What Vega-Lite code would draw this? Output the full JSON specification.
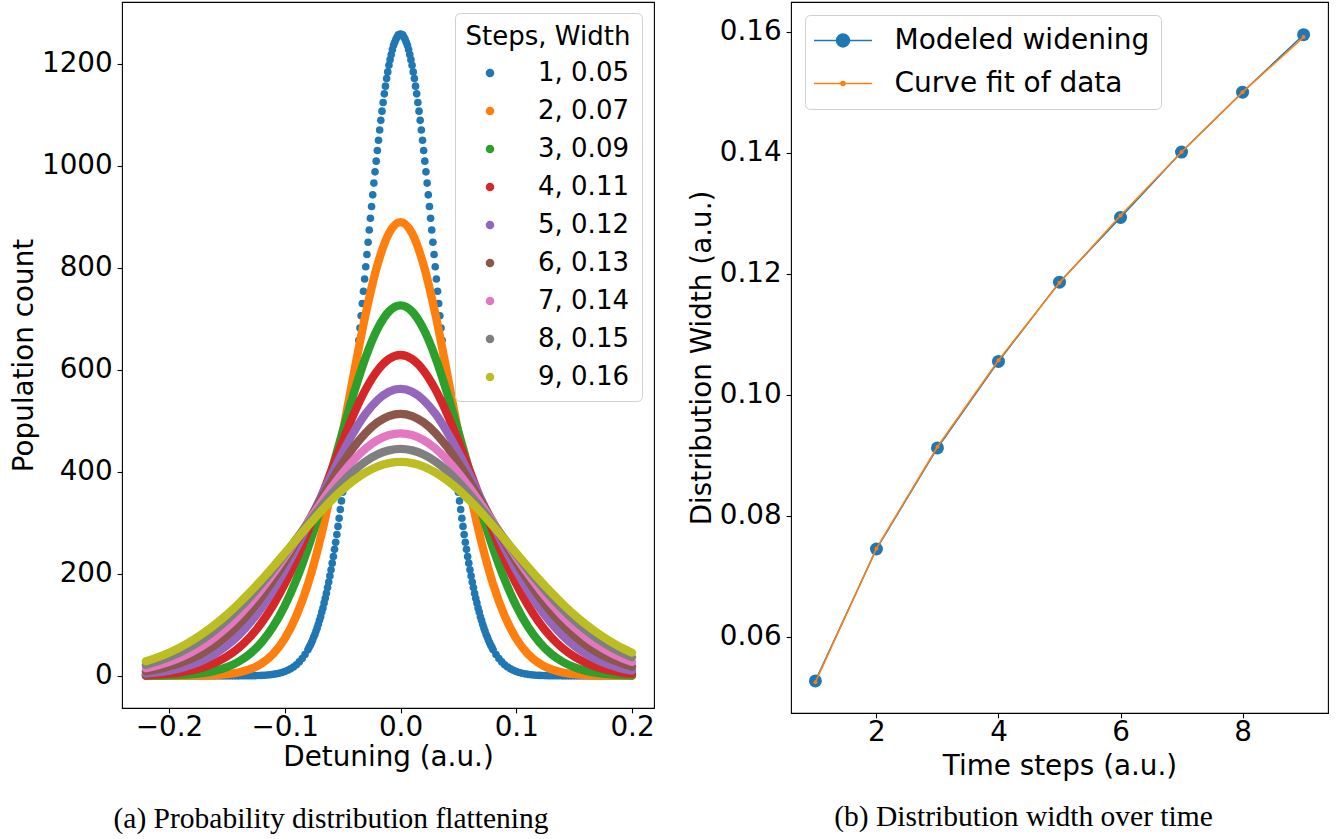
{
"$schema": "https://vega.github.io/schema/vega-lite/v6.json",
"background": "white",
"padding": {"left": 9, "top": 1, "right": 5, "bottom": 5},
"bounds": "flush",
"spacing": 137,
"resolve": {"scale": {"color": "independent"}, "legend": {"color": "independent"}},
"config": {
  "view": {"stroke": "black", "strokeWidth": 1.1},
  "axis": {"labelFont": "DejaVu Sans", "labelFontSize": 27.8, "labelColor": "black", "titleFont": "DejaVu Sans", "titleFontSize": 27.8, "titleFontWeight": "normal", "titleColor": "black", "tickColor": "black", "tickSize": 4.9, "tickWidth": 1.1, "domain": false, "grid": false, "labelFlush": false, "labelOverlap": false},
  "axisX": {"labelPadding": 1, "titlePadding": 2},
  "axisY": {"labelPadding": 4.9, "titlePadding": 3}
},
"datasets": {
"b": [
{"x":-0.22,"y":0},{"x":-0.2175,"y":0},{"x":-0.215,"y":0},{"x":-0.2125,"y":0},{"x":-0.21,"y":0},{"x":-0.2075,"y":0},{"x":-0.205,"y":0},{"x":-0.2025,"y":0},{"x":-0.2,"y":0},{"x":-0.1975,"y":0},{"x":-0.195,"y":0},{"x":-0.1925,"y":0},{"x":-0.19,"y":0},{"x":-0.1875,"y":0},{"x":-0.185,"y":0},{"x":-0.1825,"y":0},{"x":-0.18,"y":0},{"x":-0.1775,"y":0},{"x":-0.175,"y":0},{"x":-0.1725,"y":0},{"x":-0.17,"y":0},{"x":-0.1675,"y":0},{"x":-0.165,"y":0},{"x":-0.1625,"y":0},{"x":-0.16,"y":0},{"x":-0.1575,"y":0},{"x":-0.155,"y":0},{"x":-0.1525,"y":0},{"x":-0.15,"y":0},{"x":-0.1475,"y":0},{"x":-0.145,"y":0},{"x":-0.1425,"y":0},{"x":-0.14,"y":0},
{"x":-0.1375,"y":0.1},{"x":-0.135,"y":0.1},{"x":-0.1325,"y":0.2},{"x":-0.13,"y":0.3},{"x":-0.1275,"y":0.4},{"x":-0.125,"y":0.5},{"x":-0.1225,"y":0.7},{"x":-0.12,"y":0.9},{"x":-0.1175,"y":1.3},{"x":-0.115,"y":1.7},{"x":-0.1125,"y":2.2},{"x":-0.11,"y":3},{"x":-0.1075,"y":3.9},{"x":-0.105,"y":5.1},{"x":-0.1025,"y":6.6},{"x":-0.1,"y":8.5},{"x":-0.0975,"y":10.9},{"x":-0.095,"y":13.8},{"x":-0.0925,"y":17.4},{"x":-0.09,"y":21.9},{"x":-0.0875,"y":27.4},{"x":-0.085,"y":33.9},{"x":-0.0825,"y":41.9},
{"x":-0.08,"y":51},{"x":-0.079,"y":56},{"x":-0.078,"y":60},{"x":-0.077,"y":65},{"x":-0.076,"y":70},{"x":-0.075,"y":76},{"x":-0.074,"y":81},{"x":-0.073,"y":88},{"x":-0.072,"y":94},{"x":-0.071,"y":101},{"x":-0.07,"y":109},{"x":-0.069,"y":116},{"x":-0.068,"y":125},{"x":-0.067,"y":133},{"x":-0.066,"y":143},{"x":-0.065,"y":152},{"x":-0.064,"y":162},{"x":-0.063,"y":173},{"x":-0.062,"y":184},{"x":-0.061,"y":196},{"x":-0.06,"y":208},{"x":-0.059,"y":221},{"x":-0.058,"y":234},{"x":-0.057,"y":248},{"x":-0.056,"y":262},{"x":-0.055,"y":277},{"x":-0.054,"y":293},{"x":-0.053,"y":309},{"x":-0.052,"y":326},{"x":-0.051,"y":343},{"x":-0.05,"y":360},{"x":-0.049,"y":379},{"x":-0.048,"y":398},{"x":-0.047,"y":417},{"x":-0.046,"y":437},{"x":-0.045,"y":457},{"x":-0.044,"y":478},{"x":-0.043,"y":499},{"x":-0.042,"y":521},{"x":-0.041,"y":543},{"x":-0.04,"y":565},{"x":-0.039,"y":588},{"x":-0.038,"y":611},{"x":-0.037,"y":635},{"x":-0.036,"y":658},{"x":-0.035,"y":682},{"x":-0.034,"y":706},{"x":-0.033,"y":730},{"x":-0.032,"y":754},{"x":-0.031,"y":778},{"x":-0.03,"y":802},{"x":-0.029,"y":826},{"x":-0.028,"y":850},{"x":-0.027,"y":874},{"x":-0.026,"y":897},{"x":-0.025,"y":920},{"x":-0.024,"y":943},{"x":-0.023,"y":966},{"x":-0.022,"y":988},{"x":-0.021,"y":1009},{"x":-0.02,"y":1030},{"x":-0.019,"y":1050},{"x":-0.018,"y":1070},{"x":-0.017,"y":1089},{"x":-0.016,"y":1107},{"x":-0.015,"y":1124},{"x":-0.014,"y":1141},{"x":-0.013,"y":1156},{"x":-0.012,"y":1171},{"x":-0.011,"y":1184},{"x":-0.01,"y":1197},{"x":-0.009,"y":1208},{"x":-0.008,"y":1218},{"x":-0.007,"y":1228},{"x":-0.006,"y":1236},{"x":-0.005,"y":1242},{"x":-0.004,"y":1248},{"x":-0.003,"y":1252},{"x":-0.002,"y":1256},{"x":-0.001,"y":1257},
{"x":0,"y":1258},
{"x":0.001,"y":1257},{"x":0.002,"y":1256},{"x":0.003,"y":1252},{"x":0.004,"y":1248},{"x":0.005,"y":1242},{"x":0.006,"y":1236},{"x":0.007,"y":1228},{"x":0.008,"y":1218},{"x":0.009,"y":1208},{"x":0.01,"y":1197},{"x":0.011,"y":1184},{"x":0.012,"y":1171},{"x":0.013,"y":1156},{"x":0.014,"y":1141},{"x":0.015,"y":1124},{"x":0.016,"y":1107},{"x":0.017,"y":1089},{"x":0.018,"y":1070},{"x":0.019,"y":1050},{"x":0.02,"y":1030},{"x":0.021,"y":1009},{"x":0.022,"y":988},{"x":0.023,"y":966},{"x":0.024,"y":943},{"x":0.025,"y":920},{"x":0.026,"y":897},{"x":0.027,"y":874},{"x":0.028,"y":850},{"x":0.029,"y":826},{"x":0.03,"y":802},{"x":0.031,"y":778},{"x":0.032,"y":754},{"x":0.033,"y":730},{"x":0.034,"y":706},{"x":0.035,"y":682},{"x":0.036,"y":658},{"x":0.037,"y":635},{"x":0.038,"y":611},{"x":0.039,"y":588},{"x":0.04,"y":565},{"x":0.041,"y":543},{"x":0.042,"y":521},{"x":0.043,"y":499},{"x":0.044,"y":478},{"x":0.045,"y":457},{"x":0.046,"y":437},{"x":0.047,"y":417},{"x":0.048,"y":398},{"x":0.049,"y":379},{"x":0.05,"y":360},{"x":0.051,"y":343},{"x":0.052,"y":326},{"x":0.053,"y":309},{"x":0.054,"y":293},{"x":0.055,"y":277},{"x":0.056,"y":262},{"x":0.057,"y":248},{"x":0.058,"y":234},{"x":0.059,"y":221},{"x":0.06,"y":208},{"x":0.061,"y":196},{"x":0.062,"y":184},{"x":0.063,"y":173},{"x":0.064,"y":162},{"x":0.065,"y":152},{"x":0.066,"y":143},{"x":0.067,"y":133},{"x":0.068,"y":125},{"x":0.069,"y":116},{"x":0.07,"y":109},{"x":0.071,"y":101},{"x":0.072,"y":94},{"x":0.073,"y":88},{"x":0.074,"y":81},{"x":0.075,"y":76},{"x":0.076,"y":70},{"x":0.077,"y":65},{"x":0.078,"y":60},{"x":0.079,"y":56},{"x":0.08,"y":51},
{"x":0.0825,"y":41.9},{"x":0.085,"y":33.9},{"x":0.0875,"y":27.4},{"x":0.09,"y":21.9},{"x":0.0925,"y":17.4},{"x":0.095,"y":13.8},{"x":0.0975,"y":10.9},{"x":0.1,"y":8.5},{"x":0.1025,"y":6.6},{"x":0.105,"y":5.1},{"x":0.1075,"y":3.9},{"x":0.11,"y":3},{"x":0.1125,"y":2.2},{"x":0.115,"y":1.7},{"x":0.1175,"y":1.3},{"x":0.12,"y":0.9},{"x":0.1225,"y":0.7},{"x":0.125,"y":0.5},{"x":0.1275,"y":0.4},{"x":0.13,"y":0.3},{"x":0.1325,"y":0.2},{"x":0.135,"y":0.1},{"x":0.1375,"y":0.1},
{"x":0.14,"y":0},{"x":0.1425,"y":0},{"x":0.145,"y":0},{"x":0.1475,"y":0},{"x":0.15,"y":0},{"x":0.1525,"y":0},{"x":0.155,"y":0},{"x":0.1575,"y":0},{"x":0.16,"y":0},{"x":0.1625,"y":0},{"x":0.165,"y":0},{"x":0.1675,"y":0},{"x":0.17,"y":0},{"x":0.1725,"y":0},{"x":0.175,"y":0},{"x":0.1775,"y":0},{"x":0.18,"y":0},{"x":0.1825,"y":0},{"x":0.185,"y":0},{"x":0.1875,"y":0},{"x":0.19,"y":0},{"x":0.1925,"y":0},{"x":0.195,"y":0},{"x":0.1975,"y":0},{"x":0.2,"y":0}
],
"c2": [
{"x":-0.22,"y":0},{"x":-0.21,"y":0},{"x":-0.2,"y":0},{"x":-0.19,"y":0.1},{"x":-0.18,"y":0.3},{"x":-0.17,"y":0.6},{"x":-0.16,"y":1.5},{"x":-0.15,"y":3.2},{"x":-0.14,"y":6.6},{"x":-0.13,"y":13},{"x":-0.12,"y":24.3},{"x":-0.11,"y":43.2},{"x":-0.1,"y":73},{"x":-0.09,"y":117.4},{"x":-0.08,"y":179.6},{"x":-0.07,"y":261.3},{"x":-0.06,"y":361.6},{"x":-0.05,"y":476.1},{"x":-0.04,"y":596.2},{"x":-0.03,"y":710.3},{"x":-0.02,"y":804.9},{"x":-0.01,"y":867.5},{"x":0,"y":889.5},{"x":0.01,"y":867.5},{"x":0.02,"y":804.9},{"x":0.03,"y":710.3},{"x":0.04,"y":596.2},{"x":0.05,"y":476.1},{"x":0.06,"y":361.6},{"x":0.07,"y":261.3},{"x":0.08,"y":179.6},{"x":0.09,"y":117.4},{"x":0.1,"y":73},{"x":0.11,"y":43.2},{"x":0.12,"y":24.3},{"x":0.13,"y":13},{"x":0.14,"y":6.6},{"x":0.15,"y":3.2},{"x":0.16,"y":1.5},{"x":0.17,"y":0.6},{"x":0.18,"y":0.3},{"x":0.19,"y":0.1},{"x":0.2,"y":0}
],
"c3": [
{"x":-0.22,"y":0.2},{"x":-0.21,"y":0.5},{"x":-0.2,"y":0.9},{"x":-0.19,"y":1.8},{"x":-0.18,"y":3.3},{"x":-0.17,"y":5.9},{"x":-0.16,"y":10.2},{"x":-0.15,"y":17.1},{"x":-0.14,"y":27.7},{"x":-0.13,"y":43.4},{"x":-0.12,"y":65.9},{"x":-0.11,"y":96.7},{"x":-0.1,"y":137.2},{"x":-0.09,"y":188.3},{"x":-0.08,"y":250},{"x":-0.07,"y":320.9},{"x":-0.06,"y":398.6},{"x":-0.05,"y":478.8},{"x":-0.04,"y":556.3},{"x":-0.03,"y":625.1},{"x":-0.02,"y":679.5},{"x":-0.01,"y":714.3},{"x":0,"y":726.3},{"x":0.01,"y":714.3},{"x":0.02,"y":679.5},{"x":0.03,"y":625.1},{"x":0.04,"y":556.3},{"x":0.05,"y":478.8},{"x":0.06,"y":398.6},{"x":0.07,"y":320.9},{"x":0.08,"y":250},{"x":0.09,"y":188.3},{"x":0.1,"y":137.2},{"x":0.11,"y":96.7},{"x":0.12,"y":65.9},{"x":0.13,"y":43.4},{"x":0.14,"y":27.7},{"x":0.15,"y":17.1},{"x":0.16,"y":10.2},{"x":0.17,"y":5.9},{"x":0.18,"y":3.3},{"x":0.19,"y":1.8},{"x":0.2,"y":0.9}
],
"c4": [
{"x":-0.22,"y":1.5},{"x":-0.21,"y":2.5},{"x":-0.2,"y":4.2},{"x":-0.19,"y":6.9},{"x":-0.18,"y":11},{"x":-0.17,"y":17},{"x":-0.16,"y":25.6},{"x":-0.15,"y":37.8},{"x":-0.14,"y":54.3},{"x":-0.13,"y":76.1},{"x":-0.12,"y":104},{"x":-0.11,"y":138.6},{"x":-0.1,"y":180.2},{"x":-0.09,"y":228.5},{"x":-0.08,"y":282.6},{"x":-0.07,"y":340.9},{"x":-0.06,"y":401.1},{"x":-0.05,"y":460.2},{"x":-0.04,"y":515},{"x":-0.03,"y":562.1},{"x":-0.02,"y":598.3},{"x":-0.01,"y":621.2},{"x":0,"y":629},{"x":0.01,"y":621.2},{"x":0.02,"y":598.3},{"x":0.03,"y":562.1},{"x":0.04,"y":515},{"x":0.05,"y":460.2},{"x":0.06,"y":401.1},{"x":0.07,"y":340.9},{"x":0.08,"y":282.6},{"x":0.09,"y":228.5},{"x":0.1,"y":180.2},{"x":0.11,"y":138.6},{"x":0.12,"y":104},{"x":0.13,"y":76.1},{"x":0.14,"y":54.3},{"x":0.15,"y":37.8},{"x":0.16,"y":25.6},{"x":0.17,"y":17},{"x":0.18,"y":11},{"x":0.19,"y":6.9},{"x":0.2,"y":4.2}
],
"c5": [
{"x":-0.22,"y":4.5},{"x":-0.21,"y":6.8},{"x":-0.2,"y":10.3},{"x":-0.19,"y":15.2},{"x":-0.18,"y":22},{"x":-0.17,"y":31.3},{"x":-0.16,"y":43.5},{"x":-0.15,"y":59.3},{"x":-0.14,"y":79.2},{"x":-0.13,"y":103.8},{"x":-0.12,"y":133.3},{"x":-0.11,"y":167.8},{"x":-0.1,"y":207},{"x":-0.09,"y":250.3},{"x":-0.08,"y":296.7},{"x":-0.07,"y":344.7},{"x":-0.06,"y":392.5},{"x":-0.05,"y":438.1},{"x":-0.04,"y":479.4},{"x":-0.03,"y":514.2},{"x":-0.02,"y":540.5},{"x":-0.01,"y":557},{"x":0,"y":562.6},{"x":0.01,"y":557},{"x":0.02,"y":540.5},{"x":0.03,"y":514.2},{"x":0.04,"y":479.4},{"x":0.05,"y":438.1},{"x":0.06,"y":392.5},{"x":0.07,"y":344.7},{"x":0.08,"y":296.7},{"x":0.09,"y":250.3},{"x":0.1,"y":207},{"x":0.11,"y":167.8},{"x":0.12,"y":133.3},{"x":0.13,"y":103.8},{"x":0.14,"y":79.2},{"x":0.15,"y":59.3},{"x":0.16,"y":43.5},{"x":0.17,"y":31.3},{"x":0.18,"y":22},{"x":0.19,"y":15.2},{"x":0.2,"y":10.3}
],
"c6": [
{"x":-0.22,"y":9.1},{"x":-0.21,"y":13},{"x":-0.2,"y":18.3},{"x":-0.19,"y":25.4},{"x":-0.18,"y":34.5},{"x":-0.17,"y":46.2},{"x":-0.16,"y":60.8},{"x":-0.15,"y":78.8},{"x":-0.14,"y":100.3},{"x":-0.13,"y":125.6},{"x":-0.12,"y":154.7},{"x":-0.11,"y":187.4},{"x":-0.1,"y":223.2},{"x":-0.09,"y":261.5},{"x":-0.08,"y":301.3},{"x":-0.07,"y":341.4},{"x":-0.06,"y":380.5},{"x":-0.05,"y":417},{"x":-0.04,"y":449.5},{"x":-0.03,"y":476.5},{"x":-0.02,"y":496.8},{"x":-0.01,"y":509.3},{"x":0,"y":513.6},{"x":0.01,"y":509.3},{"x":0.02,"y":496.8},{"x":0.03,"y":476.5},{"x":0.04,"y":449.5},{"x":0.05,"y":417},{"x":0.06,"y":380.5},{"x":0.07,"y":341.4},{"x":0.08,"y":301.3},{"x":0.09,"y":261.5},{"x":0.1,"y":223.2},{"x":0.11,"y":187.4},{"x":0.12,"y":154.7},{"x":0.13,"y":125.6},{"x":0.14,"y":100.3},{"x":0.15,"y":78.8},{"x":0.16,"y":60.8},{"x":0.17,"y":46.2},{"x":0.18,"y":34.5},{"x":0.19,"y":25.4},{"x":0.2,"y":18.3}
],
"c7": [
{"x":-0.22,"y":15},{"x":-0.21,"y":20.4},{"x":-0.2,"y":27.3},{"x":-0.19,"y":36.1},{"x":-0.18,"y":47},{"x":-0.17,"y":60.3},{"x":-0.16,"y":76.4},{"x":-0.15,"y":95.3},{"x":-0.14,"y":117.3},{"x":-0.13,"y":142.2},{"x":-0.12,"y":170},{"x":-0.11,"y":200.4},{"x":-0.1,"y":232.8},{"x":-0.09,"y":266.6},{"x":-0.08,"y":301},{"x":-0.07,"y":335.1},{"x":-0.06,"y":367.7},{"x":-0.05,"y":397.7},{"x":-0.04,"y":424.1},{"x":-0.03,"y":445.9},{"x":-0.02,"y":462.1},{"x":-0.01,"y":472.1},{"x":0,"y":475.5},{"x":0.01,"y":472.1},{"x":0.02,"y":462.1},{"x":0.03,"y":445.9},{"x":0.04,"y":424.1},{"x":0.05,"y":397.7},{"x":0.06,"y":367.7},{"x":0.07,"y":335.1},{"x":0.08,"y":301},{"x":0.09,"y":266.6},{"x":0.1,"y":232.8},{"x":0.11,"y":200.4},{"x":0.12,"y":170},{"x":0.13,"y":142.2},{"x":0.14,"y":117.3},{"x":0.15,"y":95.3},{"x":0.16,"y":76.4},{"x":0.17,"y":60.3},{"x":0.18,"y":47},{"x":0.19,"y":36.1},{"x":0.2,"y":27.3}
],
"c8": [
{"x":-0.22,"y":21.6},{"x":-0.21,"y":28.3},{"x":-0.2,"y":36.5},{"x":-0.19,"y":46.6},{"x":-0.18,"y":58.7},{"x":-0.17,"y":73.1},{"x":-0.16,"y":89.8},{"x":-0.15,"y":109},{"x":-0.14,"y":130.7},{"x":-0.13,"y":154.7},{"x":-0.12,"y":180.8},{"x":-0.11,"y":208.8},{"x":-0.1,"y":238.1},{"x":-0.09,"y":268.1},{"x":-0.08,"y":298.2},{"x":-0.07,"y":327.5},{"x":-0.06,"y":355.2},{"x":-0.05,"y":380.5},{"x":-0.04,"y":402.5},{"x":-0.03,"y":420.5},{"x":-0.02,"y":433.8},{"x":-0.01,"y":442},{"x":0,"y":444.8},{"x":0.01,"y":442},{"x":0.02,"y":433.8},{"x":0.03,"y":420.5},{"x":0.04,"y":402.5},{"x":0.05,"y":380.5},{"x":0.06,"y":355.2},{"x":0.07,"y":327.5},{"x":0.08,"y":298.2},{"x":0.09,"y":268.1},{"x":0.1,"y":238.1},{"x":0.11,"y":208.8},{"x":0.12,"y":180.8},{"x":0.13,"y":154.7},{"x":0.14,"y":130.7},{"x":0.15,"y":109},{"x":0.16,"y":89.8},{"x":0.17,"y":73.1},{"x":0.18,"y":58.7},{"x":0.19,"y":46.6},{"x":0.2,"y":36.5}
],
"c9": [
{"x":-0.22,"y":28.5},{"x":-0.21,"y":36.2},{"x":-0.2,"y":45.4},{"x":-0.19,"y":56.4},{"x":-0.18,"y":69.3},{"x":-0.17,"y":84.2},{"x":-0.16,"y":101.1},{"x":-0.15,"y":120.1},{"x":-0.14,"y":141.1},{"x":-0.13,"y":164},{"x":-0.12,"y":188.4},{"x":-0.11,"y":214.1},{"x":-0.1,"y":240.6},{"x":-0.09,"y":267.4},{"x":-0.08,"y":293.8},{"x":-0.07,"y":319.4},{"x":-0.06,"y":343.3},{"x":-0.05,"y":364.9},{"x":-0.04,"y":383.6},{"x":-0.03,"y":398.8},{"x":-0.02,"y":410.1},{"x":-0.01,"y":417},{"x":0,"y":419.3},{"x":0.01,"y":417},{"x":0.02,"y":410.1},{"x":0.03,"y":398.8},{"x":0.04,"y":383.6},{"x":0.05,"y":364.9},{"x":0.06,"y":343.3},{"x":0.07,"y":319.4},{"x":0.08,"y":293.8},{"x":0.09,"y":267.4},{"x":0.1,"y":240.6},{"x":0.11,"y":214.1},{"x":0.12,"y":188.4},{"x":0.13,"y":164},{"x":0.14,"y":141.1},{"x":0.15,"y":120.1},{"x":0.16,"y":101.1},{"x":0.17,"y":84.2},{"x":0.18,"y":69.3},{"x":0.19,"y":56.4},{"x":0.2,"y":45.4}
],
"m": [{"n":1,"w":0.0527},{"n":2,"w":0.0745},{"n":3,"w":0.0912},{"n":4,"w":0.1055},{"n":5,"w":0.1186},{"n":6,"w":0.1293},{"n":7,"w":0.1401},{"n":8,"w":0.15},{"n":9,"w":0.1595}],
"f": [{"n":1,"w":0.0525},{"n":2,"w":0.0746},{"n":3,"w":0.0914},{"n":4,"w":0.1057},{"n":5,"w":0.1185},{"n":6,"w":0.1296},{"n":7,"w":0.1401},{"n":8,"w":0.15},{"n":9,"w":0.1591}]
},
"hconcat": [
{
  "width": 532, "height": 706,
  "title": {"text": "(a) Probability distribution flattening", "orient": "bottom", "anchor": "middle", "frame": "group", "dx": -57, "offset": 33, "font": "Liberation Serif", "fontSize": 29.5, "fontWeight": "normal", "color": "black"},
  "encoding": {
    "x": {"field": "x", "type": "quantitative", "scale": {"domain": [-0.2406, 0.219], "nice": false, "zero": false}, "axis": {"values": [-0.2, -0.1, 0, 0.1, 0.2], "format": ".1f", "title": "Detuning (a.u.)"}},
    "y": {"field": "y", "type": "quantitative", "scale": {"domain": [-63, 1321], "nice": false, "zero": false}, "axis": {"values": [0, 200, 400, 600, 800, 1000, 1200], "format": "d", "title": "Population count"}}
  },
  "layer": [
    {"data": {"name": "b"}, "mark": {"type": "point", "filled": true, "size": 58, "opacity": 1},
     "encoding": {"color": {"datum": "1, 0.05", "type": "nominal",
       "scale": {"domain": ["1, 0.05", "2, 0.07", "3, 0.09", "4, 0.11", "5, 0.12", "6, 0.13", "7, 0.14", "8, 0.15", "9, 0.16"], "range": ["#1f77b4", "#ff7f0e", "#2ca02c", "#d62728", "#9467bd", "#8c564b", "#e377c2", "#7f7f7f", "#bcbd22"]},
       "legend": {"title": "Steps, Width", "orient": "none", "legendX": 333, "legendY": 11, "fillColor": "white", "strokeColor": "#d0d0d0", "cornerRadius": 5, "padding": 11, "titleFont": "DejaVu Sans", "titleFontSize": 26, "titleFontWeight": "normal", "titleColor": "black", "titleAnchor": "middle", "titlePadding": 10, "labelFont": "DejaVu Sans", "labelFontSize": 26, "labelColor": "black", "labelLimit": 400, "rowPadding": 12, "symbolType": "circle", "symbolSize": 50, "symbolOffset": 9, "labelOffset": 35,
         "encode": {"symbols": {"update": {"fill": {"signal": "['#1f77b4','#ff7f0e','#2ca02c','#d62728','#9467bd','#8c564b','#e377c2','#7f7f7f','#bcbd22'][indexof(['1, 0.05','2, 0.07','3, 0.09','4, 0.11','5, 0.12','6, 0.13','7, 0.14','8, 0.15','9, 0.16'], datum.value)]"}, "stroke": {"value": "transparent"}, "shape": {"value": "circle"}, "size": {"value": 50}, "opacity": {"value": 1}, "fillOpacity": {"value": 1}}}}}}}},
    {"data": {"name": "c2"}, "mark": {"type": "line", "strokeWidth": 8.3, "strokeCap": "round", "strokeJoin": "round", "interpolate": "monotone"}, "encoding": {"color": {"datum": "2, 0.07", "type": "nominal"}}},
    {"data": {"name": "c3"}, "mark": {"type": "line", "strokeWidth": 8.3, "strokeCap": "round", "strokeJoin": "round", "interpolate": "monotone"}, "encoding": {"color": {"datum": "3, 0.09", "type": "nominal"}}},
    {"data": {"name": "c4"}, "mark": {"type": "line", "strokeWidth": 8.3, "strokeCap": "round", "strokeJoin": "round", "interpolate": "monotone"}, "encoding": {"color": {"datum": "4, 0.11", "type": "nominal"}}},
    {"data": {"name": "c5"}, "mark": {"type": "line", "strokeWidth": 8.3, "strokeCap": "round", "strokeJoin": "round", "interpolate": "monotone"}, "encoding": {"color": {"datum": "5, 0.12", "type": "nominal"}}},
    {"data": {"name": "c6"}, "mark": {"type": "line", "strokeWidth": 8.3, "strokeCap": "round", "strokeJoin": "round", "interpolate": "monotone"}, "encoding": {"color": {"datum": "6, 0.13", "type": "nominal"}}},
    {"data": {"name": "c7"}, "mark": {"type": "line", "strokeWidth": 8.3, "strokeCap": "round", "strokeJoin": "round", "interpolate": "monotone"}, "encoding": {"color": {"datum": "7, 0.14", "type": "nominal"}}},
    {"data": {"name": "c8"}, "mark": {"type": "line", "strokeWidth": 8.3, "strokeCap": "round", "strokeJoin": "round", "interpolate": "monotone"}, "encoding": {"color": {"datum": "8, 0.15", "type": "nominal"}}},
    {"data": {"name": "c9"}, "mark": {"type": "line", "strokeWidth": 8.3, "strokeCap": "round", "strokeJoin": "round", "interpolate": "monotone"}, "encoding": {"color": {"datum": "9, 0.16", "type": "nominal"}}}
  ]
},
{
  "width": 537, "height": 711,
  "title": {"text": "(b) Distribution width over time", "orient": "bottom", "anchor": "middle", "frame": "group", "dx": -36, "offset": 22, "font": "Liberation Serif", "fontSize": 29.5, "fontWeight": "normal", "color": "black"},
  "encoding": {
    "x": {"field": "n", "type": "quantitative", "scale": {"domain": [0.6, 9.4], "nice": false, "zero": false}, "axis": {"values": [2, 4, 6, 8], "title": "Time steps (a.u.)", "titlePadding": 6}},
    "y": {"field": "w", "type": "quantitative", "scale": {"domain": [0.0474, 0.1649], "nice": false, "zero": false}, "axis": {"values": [0.06, 0.08, 0.1, 0.12, 0.14, 0.16], "format": ".2f", "title": "Distribution Width (a.u.)"}}
  },
  "layer": [
    {"data": {"name": "m"}, "mark": {"type": "line", "strokeWidth": 1.5}, "encoding": {"color": {"datum": "Modeled widening", "type": "nominal",
      "scale": {"domain": ["Modeled widening", "Curve fit of data"], "range": ["#1f77b4", "#ff7f0e"]},
      "legend": {"title": null, "orient": "none", "legendX": 14, "legendY": 13, "fillColor": "white", "strokeColor": "#d0d0d0", "cornerRadius": 5, "padding": 11, "labelFont": "DejaVu Sans", "labelFontSize": 28, "labelColor": "black", "labelLimit": 400, "rowPadding": 14, "symbolType": "circle", "symbolSize": 729, "symbolOffset": 12.5, "labelOffset": 37,
        "encode": {"symbols": {"update": {"shape": {"signal": "datum.value == 'Modeled widening' ? 'M-2.148,0L2.148,0M-0.48,0A0.48,0.48,0,1,0,0.48,0A0.48,0.48,0,1,0,-0.48,0Z' : 'M-2.148,0L2.148,0M-0.15,0A0.15,0.15,0,1,0,0.15,0A0.15,0.15,0,1,0,-0.15,0Z'"}, "size": {"value": 729}, "fill": {"signal": "datum.value == 'Modeled widening' ? '#1f77b4' : '#ff7f0e'"}, "stroke": {"signal": "datum.value == 'Modeled widening' ? '#1f77b4' : '#ff7f0e'"}, "strokeWidth": {"value": 1.5}, "opacity": {"value": 1}, "fillOpacity": {"value": 1}, "strokeOpacity": {"value": 1}}}}}}}},
    {"data": {"name": "m"}, "mark": {"type": "point", "filled": true, "size": 169, "opacity": 1}, "encoding": {"color": {"datum": "Modeled widening", "type": "nominal"}}},
    {"data": {"name": "f"}, "mark": {"type": "line", "strokeWidth": 1.5}, "encoding": {"color": {"datum": "Curve fit of data", "type": "nominal"}}},
    {"data": {"name": "f"}, "mark": {"type": "point", "filled": true, "size": 16, "opacity": 1}, "encoding": {"color": {"datum": "Curve fit of data", "type": "nominal"}}}
  ]
}
]
}
